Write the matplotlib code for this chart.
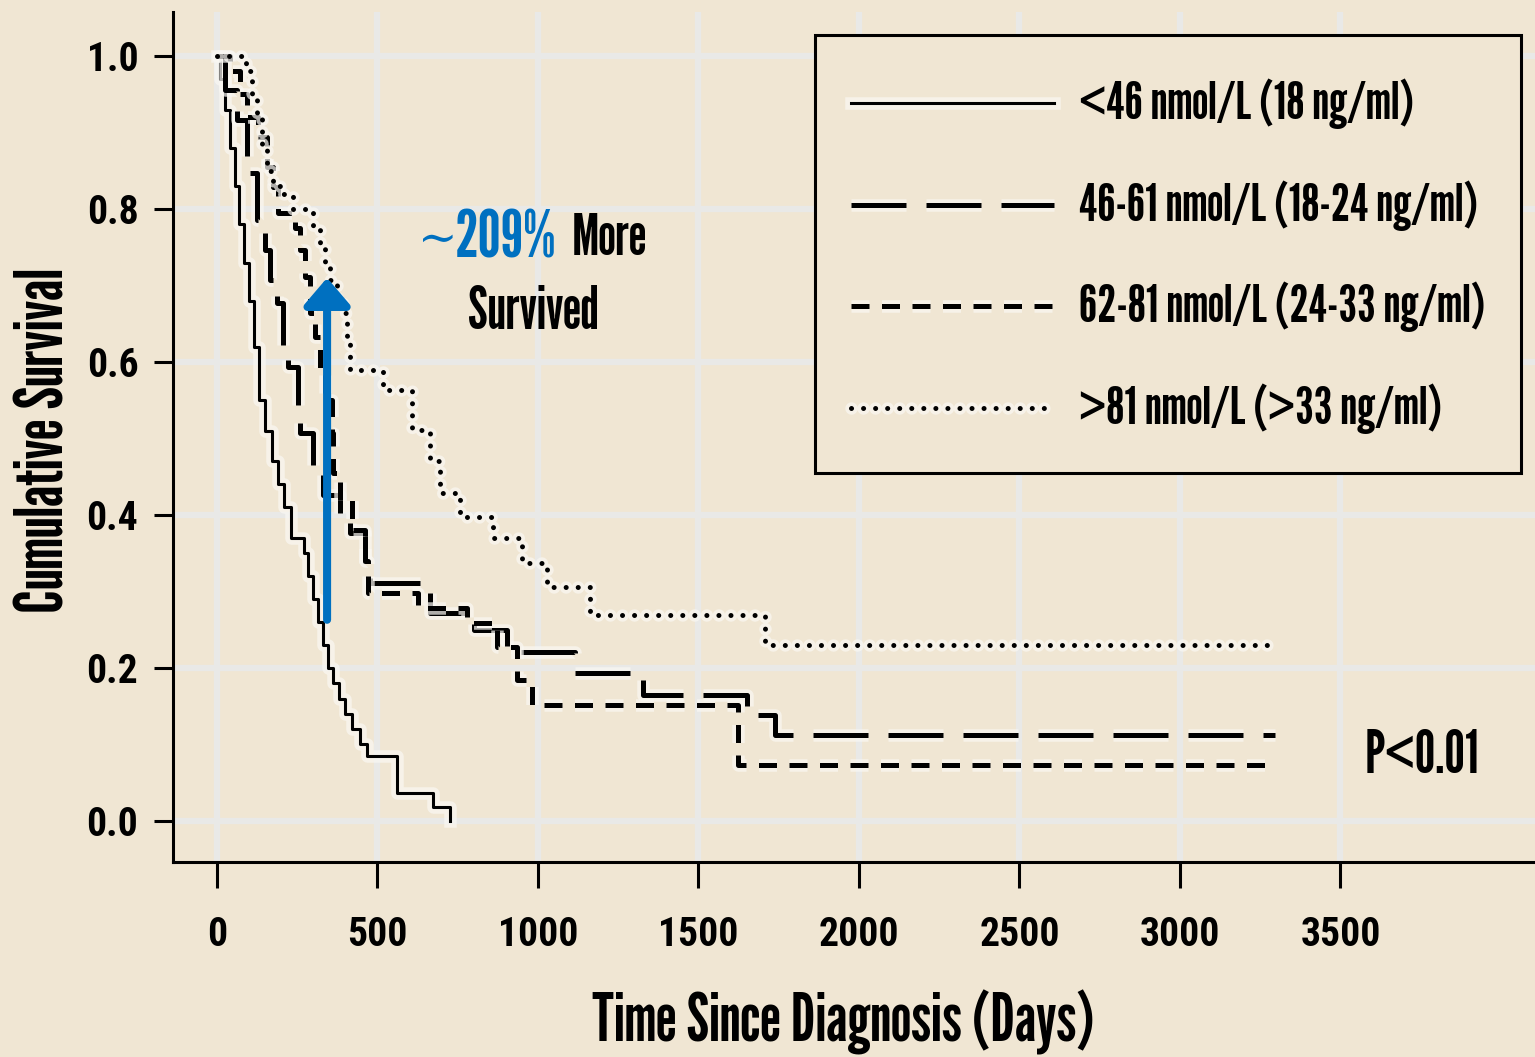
import matplotlib
matplotlib.use('Agg')
import matplotlib.pyplot as plt
import matplotlib.patheffects as pe
from matplotlib import font_manager

# Kaplan-Meier steps (time in days, survival after the step)
t_lt46 = [0, 10, 25, 40, 55, 70, 85, 100, 115, 130, 150, 170, 190, 210, 230, 270,
          285, 300, 315, 330, 345, 360, 380, 400, 420, 445, 467, 560, 672, 726]
s_lt46 = [1.0, 0.97, 0.93, 0.88, 0.83, 0.78, 0.73, 0.68, 0.62, 0.55, 0.51, 0.47, 0.44,
          0.41, 0.37, 0.35, 0.32, 0.29, 0.26, 0.23, 0.20, 0.18, 0.16, 0.14, 0.12, 0.10,
          0.085, 0.037, 0.018, 0.0]

t_46_61 = [0, 25, 62, 93, 125, 150, 165, 187, 206, 221, 252, 259, 299, 330, 383, 414,
           461, 477, 664, 800, 905, 1115, 1327, 1651, 1738, 3296]
s_46_61 = [1.0, 0.955, 0.916, 0.847, 0.786, 0.746, 0.707, 0.677, 0.622, 0.593, 0.537,
           0.507, 0.455, 0.426, 0.393, 0.376, 0.332, 0.311, 0.272, 0.25, 0.221, 0.193,
           0.165, 0.139, 0.112, 0.112]

t_62_81 = [0, 40, 72, 93, 128, 156, 174, 190, 243, 259, 274, 290, 305, 321, 336, 358,
           361, 383, 421, 461, 470, 626, 779, 872, 935, 981, 1623, 3296]
s_62_81 = [1.0, 0.98, 0.95, 0.92, 0.894, 0.855, 0.829, 0.795, 0.775, 0.746, 0.711, 0.664,
           0.633, 0.59, 0.55, 0.507, 0.455, 0.42, 0.38, 0.34, 0.298, 0.278, 0.259, 0.227,
           0.184, 0.152, 0.073, 0.073]

t_gt81 = [0, 90, 110, 125, 140, 155, 175, 200, 237, 299, 320, 335, 352, 375, 393, 405,
          414, 517, 607, 664, 695, 757, 860, 950, 1028, 1162, 1707, 3296]
s_gt81 = [1.0, 0.98, 0.95, 0.92, 0.88, 0.85, 0.83, 0.82, 0.80, 0.775, 0.75, 0.73, 0.707,
          0.68, 0.664, 0.63, 0.59, 0.563, 0.511, 0.47, 0.429, 0.397, 0.37, 0.337, 0.306,
          0.269, 0.23, 0.23]

labels = ['<46 nmol/L (18 ng/ml)', '46-61 nmol/L (18-24 ng/ml)',
          '62-81 nmol/L (24-33 ng/ml)', '>81 nmol/L (>33 ng/ml)']
xticks = [0, 500, 1000, 1500, 2000, 2500, 3000, 3500]
yticks = [0.0, 0.2, 0.4, 0.6, 0.8, 1.0]

arrow_x = 343
arrow_from = 0.263
arrow_to = 0.71

bg = '#f0e6d3'
blue = '#0070c0'

avail = {f.name for f in font_manager.fontManager.ttflist}
FONT = next(c for c in ['League Gothic', 'Oswald', 'Roboto Condensed',
                        'Liberation Sans Narrow', 'DejaVu Sans'] if c in avail)
TICKFONT = next(c for c in ['Roboto Condensed', FONT] if c in avail)
plt.rcParams['font.family'] = [FONT, 'DejaVu Sans']
plt.rcParams['font.weight'] = 'bold'

fig = plt.figure(figsize=(15.35, 10.57), dpi=100, facecolor=bg)
ax = fig.add_axes([173/1535, 195/1057, 1362/1535, 850/1057], facecolor=bg)

halo = [pe.Stroke(linewidth=9, foreground='#faf8f3', alpha=0.7), pe.Normal()]
ax.step(t_lt46, s_lt46, where='post', color='black', lw=2.2, label=labels[0],
        path_effects=halo)
ax.step(t_46_61, s_46_61, where='post', color='black', lw=3.6, label=labels[1],
        linestyle=(0, (11, 4)), path_effects=halo)
ax.step(t_62_81, s_62_81, where='post', color='black', lw=3.6, label=labels[2],
        linestyle=(0, (3.6, 2.5)), path_effects=halo)
ax.step(t_gt81, s_gt81, where='post', color='black', lw=3.6, label=labels[3],
        linestyle=(0, (0.01, 2.4)), dash_capstyle='round', path_effects=halo)

ax.annotate('', xy=(arrow_x, arrow_to), xytext=(arrow_x, arrow_from),
            arrowprops=dict(arrowstyle='-|>,head_length=0.55,head_width=0.47',
                            color=blue, lw=5.8, mutation_scale=30,
                            shrinkA=0, shrinkB=0))

ax.text(626, 0.7595, '\u223c', color=blue, fontsize=34, fontweight='normal',
        family='DejaVu Serif', ha='left', va='center')
ax.text(741, 0.7595, '209%', color=blue, fontsize=47, ha='left', va='center')
ax.text(1106, 0.7595, 'More', color='black', fontsize=41, ha='left', va='center')
ax.text(988, 0.665, 'Survived', color='black', fontsize=42, ha='center', va='center')
ax.text(3576, 0.0837, 'P<0.01', color='black', fontsize=42, ha='left', va='center')

ax.set_xlim(-137, 4106)
ax.set_ylim(-0.0536, 1.0575)
ax.set_xticks(xticks)
ax.set_xticklabels([str(v) for v in xticks], family=[TICKFONT, 'DejaVu Sans'])
ax.set_yticks(yticks)
ax.set_yticklabels(['%.1f' % v for v in yticks], family=[TICKFONT, 'DejaVu Sans'])
ax.tick_params(axis='x', length=19, width=2.2, pad=20, labelsize=28.5)
ax.tick_params(axis='y', length=14, width=2.2, pad=11, labelsize=28.5)

ax.grid(True, color='#e9e9e7', lw=4.5)
ax.set_axisbelow(True)
for side in ['top', 'right']:
    ax.spines[side].set_visible(False)
for side in ['left', 'bottom']:
    ax.spines[side].set_linewidth(2.2)

fig.text(46/1535, 1 - 440/1057, 'Cumulative Survival', rotation=90,
         ha='center', va='center', fontsize=48)
fig.text(843/1535, 1 - 1022/1057, 'Time Since Diagnosis (Days)',
         ha='center', va='center', fontsize=48)

leg = ax.legend(loc='upper right', bbox_to_anchor=(1521/1535, 1 - 35/1057),
                bbox_transform=fig.transFigure, borderaxespad=0, fontsize=38,
                handlelength=3.85, handletextpad=0.47, handleheight=1.4,
                labelspacing=0.77, borderpad=0.68, fancybox=False,
                facecolor=bg, edgecolor='black', framealpha=1)
leg.get_frame().set_linewidth(2.2)
# lower the sample lines so they sit level with the text
for ln in leg.get_lines():
    ln.set_ydata([v - 6 for v in ln.get_ydata()])

fig.savefig('out.png', dpi=100, facecolor=bg)
